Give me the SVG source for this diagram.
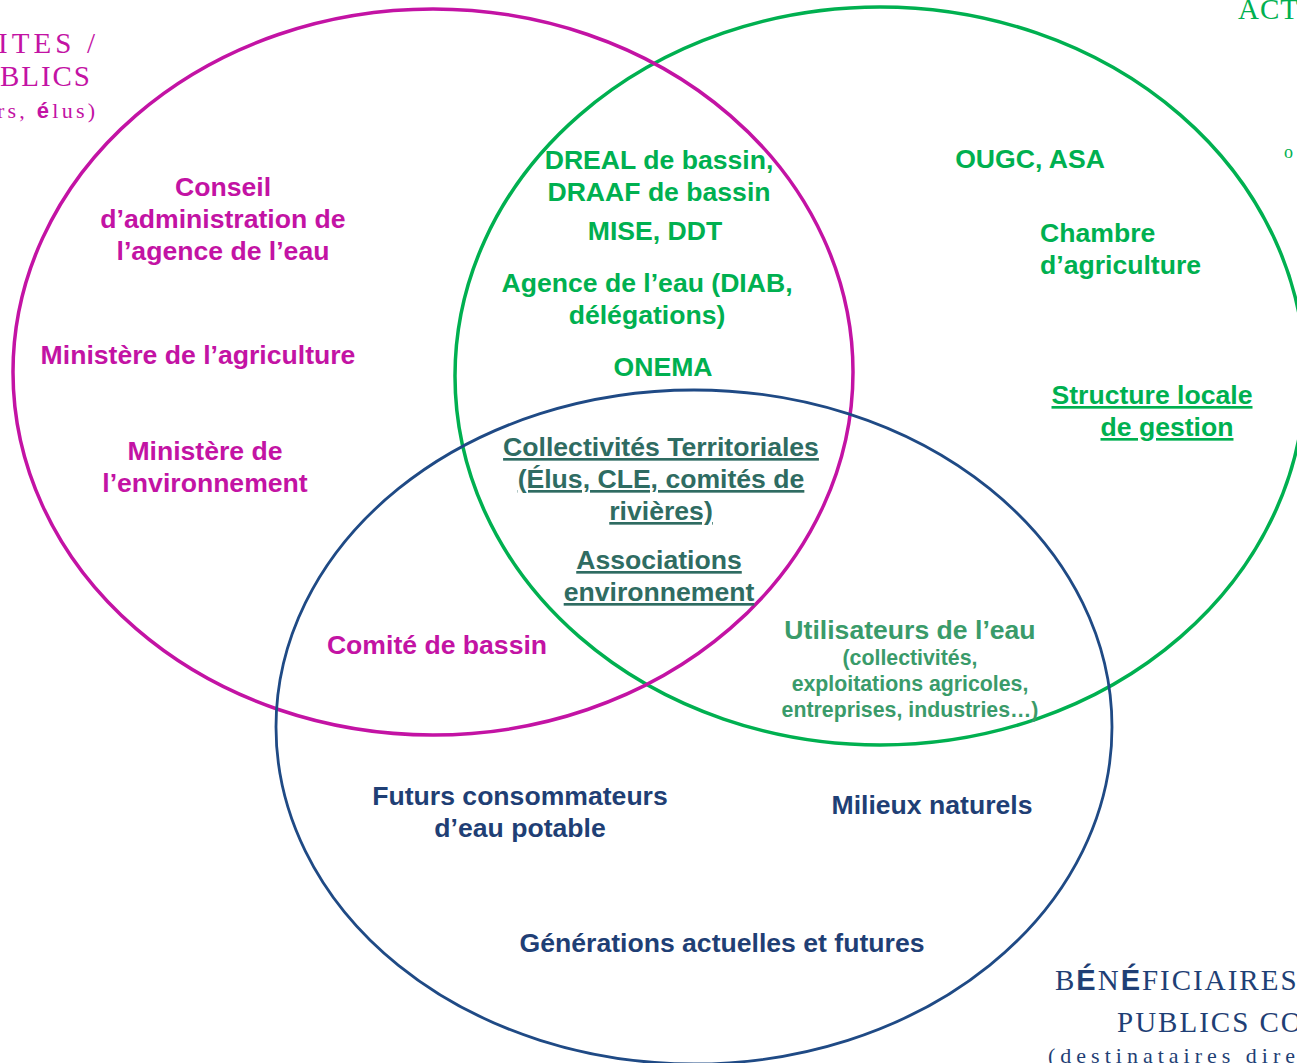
<svg xmlns="http://www.w3.org/2000/svg" width="1297" height="1063" viewBox="0 0 1297 1063">
<style>
.c{fill:none}
.t{font-family:"Liberation Sans",Arial,sans-serif;font-weight:bold;font-size:26.6px;text-anchor:middle}
.sm{font-size:21.3px}
.s{font-family:"Liberation Serif","Times New Roman",serif}
.b{font-family:"Liberation Sans",Arial,sans-serif;font-weight:bold}
.m{fill:#C313A4}
.g{fill:#00B050}
.n{fill:#1F3F75}
.k{fill:#2F6C62}
.u{fill:#3A9B6A}
.ul{text-decoration:underline}
</style>
<rect width="1297" height="1063" fill="#fff"/>
<g id="circles">
<ellipse id="circle-acteurs" class="c" cx="880" cy="376" rx="425" ry="369" stroke="#00B050" stroke-width="3.5"/>
<ellipse id="circle-autorites" class="c" cx="433" cy="372" rx="420" ry="363" stroke="#C313A4" stroke-width="3.5"/>
<ellipse id="circle-beneficiaires" class="c" cx="694" cy="727" rx="418" ry="337" stroke="#1F4A85" stroke-width="2.8"/>
</g>
<g id="corner-titles">
<g id="title-autorites" class="s m">
<text x="-2" y="53" font-size="29" textLength="97" lengthAdjust="spacing">ITES /</text>
<text x="0" y="86" font-size="29" textLength="90" lengthAdjust="spacing">BLICS</text>
<text x="-3" y="118" font-size="22" textLength="98" lengthAdjust="spacing">rs, <tspan class="b">é</tspan>lus)</text>
</g>
<g id="title-acteurs" class="s g">
<text x="1238" y="19" font-size="29" letter-spacing="1">ACT</text>
<text x="1284" y="158" font-size="18">o</text>
</g>
<g id="title-beneficiaires" class="s" fill="#1F3F75">
<text x="1055" y="990" font-size="29" letter-spacing="2">B<tspan class="b">É</tspan>N<tspan class="b">É</tspan>FICIAIRES</text>
<text x="1117" y="1032" font-size="29" letter-spacing="2">PUBLICS CO</text>
<text x="1048" y="1063" font-size="22" letter-spacing="5">(destinataires dire</text>
</g>
</g>
<g id="nodes">
<g id="n-conseil" class="t m"><text x="223" y="196">Conseil</text><text x="223" y="228">d’administration de</text><text x="223" y="260">l’agence de l’eau</text></g>
<g id="n-min-agri" class="t m"><text x="198" y="364">Ministère de l’agriculture</text></g>
<g id="n-min-env" class="t m"><text x="205" y="460">Ministère de</text><text x="205" y="492">l’environnement</text></g>
<g id="n-comite" class="t m"><text x="437" y="654">Comité de bassin</text></g>
<g id="n-dreal" class="t g"><text x="659" y="169">DREAL de bassin,</text><text x="659" y="201">DRAAF de bassin</text></g>
<g id="n-mise" class="t g"><text x="655" y="240">MISE, DDT</text></g>
<g id="n-agence" class="t g"><text x="647" y="292">Agence de l’eau (DIAB,</text><text x="647" y="324">délégations)</text></g>
<g id="n-onema" class="t g"><text x="663" y="376">ONEMA</text></g>
<g id="n-ougc" class="t g"><text x="1030" y="168">OUGC, ASA</text></g>
<g id="n-chambre" class="t g"><text x="1040" y="242" text-anchor="start">Chambre</text><text x="1040" y="274" text-anchor="start">d’agriculture</text></g>
<g id="n-structure" class="t g ul"><text x="1152" y="404">Structure locale</text><text x="1167" y="436">de gestion</text></g>
<g id="n-collectivites" class="t k ul"><text x="661" y="456">Collectivités Territoriales</text><text x="661" y="488">(Élus, CLE, comités de</text><text x="661" y="520">rivières)</text></g>
<g id="n-associations" class="t k ul"><text x="659" y="569">Associations</text><text x="659" y="601">environnement</text></g>
<g id="n-utilisateurs" class="t u"><text x="910" y="639">Utilisateurs de l’eau</text><text class="sm" x="910" y="665">(collectivités,</text><text class="sm" x="910" y="691">exploitations agricoles,</text><text class="sm" x="910" y="717">entreprises, industries…)</text></g>
<g id="n-futurs" class="t n"><text x="520" y="805">Futurs consommateurs</text><text x="520" y="837">d’eau potable</text></g>
<g id="n-milieux" class="t n"><text x="932" y="814">Milieux naturels</text></g>
<g id="n-generations" class="t n"><text x="722" y="952">Générations actuelles et futures</text></g>
</g>
<g id="connectors"/>
</svg>
